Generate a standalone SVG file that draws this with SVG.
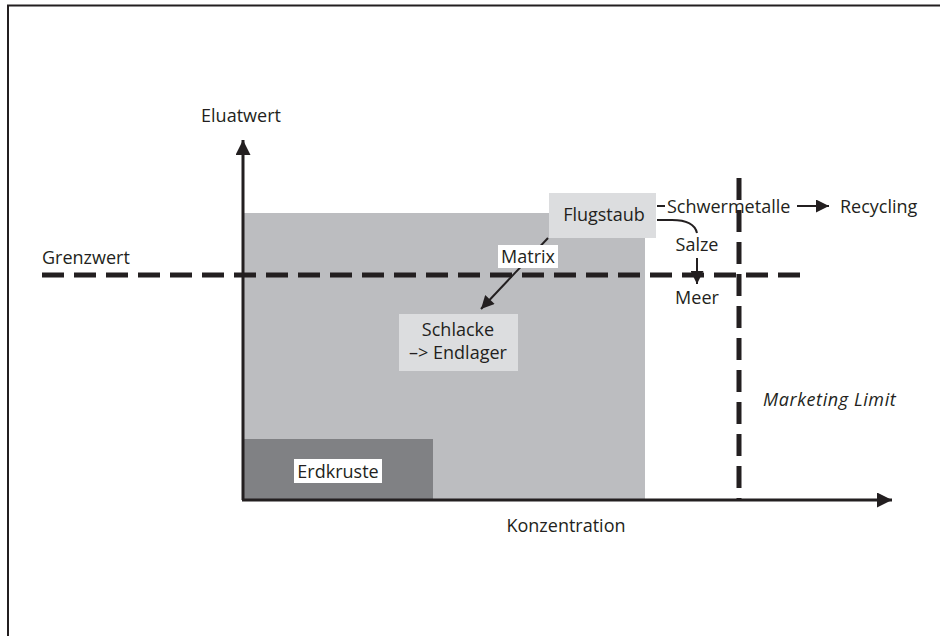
<svg xmlns="http://www.w3.org/2000/svg" width="940" height="636" viewBox="0 0 940 636">
  <style>
    text { font-family: "Open Sans", "Liberation Sans", sans-serif; font-size: 18px; fill: #231f20; }
    .mid { text-anchor: middle; }
    .ax { stroke: #231f20; stroke-width: 3; fill: none; }
    .dash { stroke: #231f20; stroke-width: 5; fill: none; stroke-dasharray: 22 10; }
    .thin { stroke: #231f20; stroke-width: 2; fill: none; }
  </style>
  <defs>
    <marker id="ah" viewBox="0 0 10 10" refX="10" refY="5" markerWidth="6" markerHeight="5" orient="auto" markerUnits="strokeWidth">
      <path d="M0,0 L10,5 L0,10 z" fill="#231f20"/>
    </marker>
    <marker id="ahs" viewBox="0 0 10 10" refX="10" refY="5" markerWidth="8.5" markerHeight="6.5" orient="auto" markerUnits="strokeWidth">
      <path d="M0,0 L10,5 L0,10 z" fill="#231f20"/>
    </marker>
  </defs>
  <rect width="940" height="636" fill="#ffffff"/>
  <!-- frame -->
  <path d="M8,636 V5.5 H940" stroke="#231f20" stroke-width="2" fill="none"/>

  <!-- regions -->
  <g id="bereich">
    <rect x="243" y="213" width="402" height="287" fill="#bcbdc0"/>
  </g>
  <g id="erdkruste">
    <rect x="243" y="439" width="190" height="61" fill="#808184"/>
    <rect x="294" y="459" width="88" height="24" fill="#ffffff"/>
    <text class="mid" x="338" y="478">Erdkruste</text>
  </g>

  <!-- limits -->
  <g id="grenzwert">
    <path class="dash" d="M42,275 H800"/>
    <text x="42" y="264">Grenzwert</text>
  </g>
  <g id="marketing-limit">
    <path class="dash" d="M739,178 V500"/>
    <text x="763" y="406" font-style="italic" letter-spacing="0.6">Marketing Limit</text>
  </g>

  <!-- axes -->
  <g id="achsen">
    <path class="ax" d="M243,500 V140" marker-end="url(#ah)"/>
    <path class="ax" d="M242,500 H892" marker-end="url(#ah)"/>
    <text class="mid" x="241" y="122">Eluatwert</text>
    <text class="mid" x="566" y="532">Konzentration</text>
  </g>

  <!-- connectors -->
  <g id="verbindungen">
    <path class="thin" d="M548,238 L481,309" marker-end="url(#ahs)"/>
    <path class="thin" d="M657,206 H665"/>
    <path class="thin" d="M797,206 H829" marker-end="url(#ahs)"/>
    <path class="thin" d="M657,220 H672 Q694,220 697,233"/>
    <path class="thin" d="M697,258 V284" marker-end="url(#ahs)"/>
  </g>

  <g id="matrix">
    <rect x="498" y="245" width="60" height="23" fill="#ffffff"/>
    <text class="mid" x="528" y="263">Matrix</text>
  </g>
  <g id="flugstaub">
    <rect x="549" y="193" width="107" height="45" fill="#dcdddf"/>
    <text class="mid" x="604" y="221">Flugstaub</text>
  </g>
  <g id="schlacke">
    <rect x="399" y="314" width="119" height="57" fill="#dcdddf"/>
    <text class="mid" x="458" y="336">Schlacke</text>
    <text class="mid" x="458" y="359">–&gt; Endlager</text>
  </g>
  <g id="schwermetalle">
    <text x="667" y="213">Schwermetalle</text>
  </g>
  <g id="recycling">
    <text x="840" y="213">Recycling</text>
  </g>
  <g id="salze">
    <text class="mid" x="697" y="251">Salze</text>
  </g>
  <g id="meer">
    <text class="mid" x="697" y="304">Meer</text>
  </g>
</svg>
